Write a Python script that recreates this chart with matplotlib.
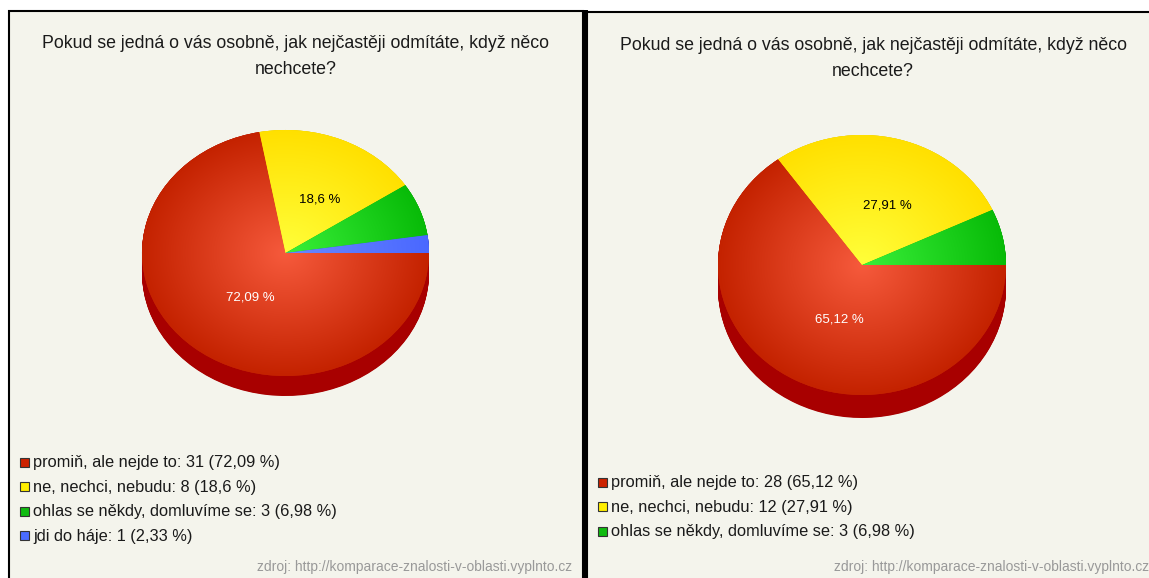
import numpy as np
import matplotlib.pyplot as plt
from matplotlib.patches import Rectangle
from matplotlib.colors import to_rgb

plt.rcParams['font.family'] = ['Liberation Sans', 'DejaVu Sans']

W, H = 1149, 578

title_lines = ["Pokud se jedná o vás osobně, jak nejčastěji odmítáte, když něco", "nechcete?"]
source = "zdroj: http://komparace-znalosti-v-oblasti.vyplnto.cz"

# left survey
left_names = ["promiň, ale nejde to", "ne, nechci, nebudu", "ohlas se někdy, domluvíme se", "jdi do háje"]
left_counts = [31, 8, 3, 1]
left_pcts = ["72,09", "18,6", "6,98", "2,33"]

# right survey
right_names = ["promiň, ale nejde to", "ne, nechci, nebudu", "ohlas se někdy, domluvíme se"]
right_counts = [28, 12, 3]
right_pcts = ["65,12", "27,91", "6,98"]

# colours: centre of gradient, edge of gradient, side of the disc, legend box
c_center = ['#f65a3c', '#ffff3a', '#3af03a', '#6a88ff']
c_edge = ['#c42200', '#ffe000', '#08bb08', '#4a68ff']
c_side = ['#a80000', '#c8a800', '#008800', '#2233aa']
c_legend = ['#cc2200', '#ffee00', '#11bb11', '#4a6cff']
label_colors = ['white', 'black', 'black', 'black']

bg = '#f4f4ec'

fig = plt.figure(figsize=(W / 100, H / 100), dpi=100, facecolor='white')
ax_bg = fig.add_axes([0, 0, 1, 1])
ax_bg.set_xlim(0, W)
ax_bg.set_ylim(H, 0)
ax_bg.axis('off')

# panels
ax_bg.add_patch(Rectangle((9, 11), 574, 580, facecolor=bg, edgecolor='black', lw=1.5))
ax_bg.add_patch(Rectangle((587, 12), 580, 580, facecolor=bg, edgecolor='black', lw=1.5))
ax_bg.add_patch(Rectangle((582.5, 10), 5, 580, facecolor='black', edgecolor='none'))


def fmt_pct(p):
    if p < 10:
        return ''
    s = f"{p:.2f}".rstrip('0').rstrip('.')
    return s.replace('.', ',') + ' %'


def draw_pie(cx, cy, rx, ry, depth, counts):
    n = len(counts)
    ax = fig.add_axes([(cx - rx) / W, (H - cy - ry - depth) / H, 2 * rx / W, (2 * ry + depth) / H])
    d = depth / ry
    for off in np.linspace(d, 0, 40):
        ax.pie(counts, colors=c_side[:n], center=(0, -off), radius=1, startangle=0,
               counterclock=False, wedgeprops=dict(linewidth=0))
    wedges, _, autotexts = ax.pie(counts, colors=c_edge[:n], startangle=0, counterclock=False,
                                  autopct=fmt_pct, pctdistance=0.47,
                                  wedgeprops=dict(linewidth=0),
                                  textprops=dict(fontsize=9.5))
    # radial gradient inside each slice
    g = np.linspace(-1, 1, 300)
    xx, yy = np.meshgrid(g, g)
    r = np.clip(np.hypot(xx, yy), 0, 1)[..., None]
    for i, w in enumerate(wedges):
        c0 = np.array(to_rgb(c_center[i]))
        c1 = np.array(to_rgb(c_edge[i]))
        img = c0 * (1 - r) + c1 * r
        im = ax.imshow(img, extent=(-1, 1, -1, 1), origin='lower', aspect='auto', zorder=w.get_zorder())
        im.set_clip_path(w)
    for i, t in enumerate(autotexts):
        t.set_color(label_colors[i])
        x, y = t.get_position()
        t.set_position((x + 8 / rx, y))
        t.set_zorder(10)
    ax.set_xlim(-1, 1)
    ax.set_ylim(-1 - d, 1)
    ax.set_aspect('auto')
    ax.axis('off')


draw_pie(285.5, 253, 143.5, 123, 20, left_counts)
draw_pie(862, 265, 144, 130, 23, right_counts)


def draw_texts(tx, ty, names, counts, pcts, lx, ly, sx):
    ax_bg.text(tx, ty, title_lines[0], ha='center', va='center', fontsize=12.8, color='#1a1a1a')
    ax_bg.text(tx, ty + 25, title_lines[1], ha='center', va='center', fontsize=12.8, color='#1a1a1a')
    for i, name in enumerate(names):
        y = ly + i * 24.4
        ax_bg.add_patch(Rectangle((lx, y - 5), 9, 9, facecolor=c_legend[i], edgecolor='#333333', lw=0.8))
        ax_bg.text(lx + 13, y, f"{name}: {counts[i]} ({pcts[i]} %)", ha='left', va='center',
                   fontsize=11.8, color='#1a1a1a')
    ax_bg.text(sx, 567, source, ha='right', va='center', fontsize=10, color='#999999')


draw_texts(296, 44, left_names, left_counts, left_pcts, 20, 463, 572)
draw_texts(873, 46, right_names, right_counts, right_pcts, 598, 483, 1149)

fig.savefig('out.png', dpi=100, facecolor='white')
